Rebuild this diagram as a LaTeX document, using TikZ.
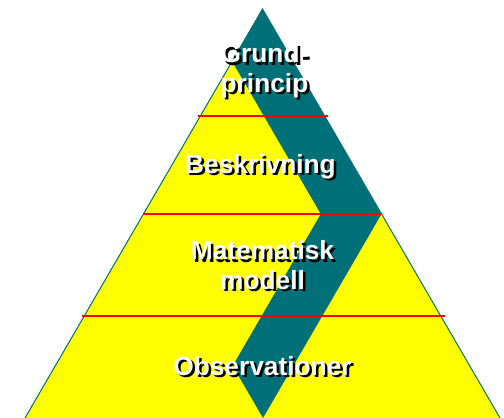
\documentclass[tikz,border=0pt]{standalone}
\usepackage{fontspec}
\setmainfont{Liberation Sans}
\definecolor{pyrteal}{RGB}{0,112,120}
\definecolor{pyryellow}{RGB}{255,255,0}
\definecolor{pyrred}{RGB}{255,0,0}
\tikzset{
  level/.style={pyrred,line width=2pt},
  word/.style={font=\bfseries\fontsize{26.3}{29.5}\selectfont,align=center,inner sep=0pt,anchor=base,text=white},
  wordshadow/.style={word,text=black}
}
\begin{document}
\begin{tikzpicture}[x=1pt,y=-1pt]
        \useasboundingbox (0,0) rectangle (504,418);
        % pyramid
        \coordinate (top) at (262.5,9);
        \coordinate (bl) at (25,418);
        \coordinate (br) at (500,418);
        \fill[pyryellow] (top) -- (bl) -- (br) -- cycle;
        % zigzag band
        \fill[pyrteal] (top) -- (381.5,214) -- (263,418) -- (232.7,365.8) -- (320.8,214) -- (232.1,61.3) -- cycle;
        \draw[pyrteal,line width=1pt] (bl) -- (top) -- (br);
        % levels
        \draw[level] (198,116) -- (328,116);
        \draw[level] (143,214) -- (381,214);
        \draw[level] (82,316) -- (445,316);
        % labels
        \node[wordshadow] (s1) at (267,94.5) {Grund-\\princip};
        \node[word] (t1) at (264.5,92) {Grund-\\princip};
        \node[wordshadow] (s2) at (263,175.5) {Beskrivning};
        \node[word] (t2) at (260.5,173) {Beskrivning};
        \node[wordshadow] (s3) at (265,291.5) {Matematisk\\modell};
        \node[word] (t3) at (262.5,289) {Matematisk\\modell};
        \node[wordshadow] (s4) at (265,377.5) {Observationer};
        \node[word] (t4) at (262.5,375) {Observationer};
\end{tikzpicture}
\end{document}
